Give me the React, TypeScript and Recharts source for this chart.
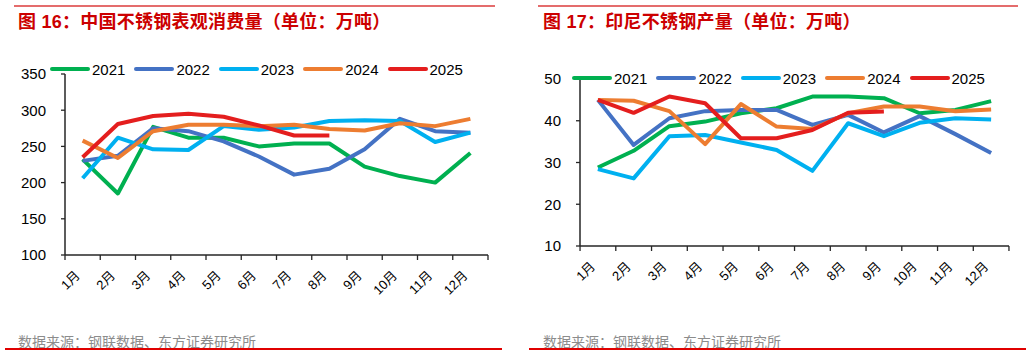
import React from 'react';
import { LineChart, Line, XAxis, YAxis } from 'recharts';

const months = ['1月', '2月', '3月', '4月', '5月', '6月', '7月', '8月', '9月', '10月', '11月', '12月'];
const years = ['2021', '2022', '2023', '2024', '2025'];
const colors = ['#00B050', '#4472C4', '#00B0F0', '#ED7D31', '#E41E1E'];

// 图16 中国不锈钢表观消费量（万吨）
const cons2021 = [232, 185, 277, 262, 262, 250, 254, 254, 222, 209, 200, 241];
const cons2022 = [230, 237, 275, 271, 257, 236, 211, 219, 246, 288, 271, 269];
const cons2023 = [206, 262, 246, 245, 278, 273, 276, 285, 286, 285, 256, 269];
const cons2024 = [258, 234, 271, 280, 280, 278, 280, 274, 272, 282, 278, 288];
const cons2025 = [235, 281, 292, 295, 291, 279, 265, 265];
const consTicks = [100, 150, 200, 250, 300, 350];

// 图17 印尼不锈钢产量（万吨）
const prod2021 = [28.8, 32.8, 38.7, 39.8, 41.8, 43, 45.8, 45.8, 45.4, 41.8, 42.6, 44.7];
const prod2022 = [45, 34.2, 40.6, 42.3, 42.6, 42.6, 39, 41.4, 37.2, 41.1, 36.8, 32.3];
const prod2023 = [28.4, 26.2, 36.3, 36.6, 34.8, 33, 28, 39.4, 36.3, 39.5, 40.6, 40.3];
const prod2024 = [45, 44.8, 42.3, 34.4, 44, 38.6, 38, 41.8, 43.4, 43.4, 42.3, 42.7];
const prod2025 = [45, 41.9, 45.8, 44.2, 35.8, 35.8, 37.8, 41.9, 42.2];
const prodTicks = [10, 20, 30, 40, 50];

const buildRows = (series: number[][]) =>
  months.map((m, i) => {
    const row: Record<string, any> = { month: m };
    years.forEach((y, k) => {
      row['y' + y] = series[k][i];
    });
    return row;
  });

const consData = buildRows([cons2021, cons2022, cons2023, cons2024, cons2025]);
const prodData = buildRows([prod2021, prod2022, prod2023, prod2024, prod2025]);

const FONT = '"Liberation Sans", Arial, "Noto Sans CJK SC", sans-serif';
const AXIS = '#262626';

const makeTick = (bw: number) => (props: any) => {
  const { x, y, payload, index } = props;
  const last = index === months.length - 1;
  return (
    <g>
      <line x1={x - bw / 2} y1={y} x2={x - bw / 2} y2={y + 5} stroke={AXIS} strokeWidth={1.3} />
      {last && <line x1={x + bw / 2} y1={y} x2={x + bw / 2} y2={y + 5} stroke={AXIS} strokeWidth={1.3} />}
      <g transform={`translate(${x - 5},${y + 18}) rotate(-45)`}>
        <text x={0} y={0} textAnchor="end" dominantBaseline="central" fontSize={13} fill="#000" fontFamily={FONT}>
          {payload.value}
        </text>
      </g>
    </g>
  );
};

const Legend = ({ left, top }: { left: number; top: number }) => (
  <div style={{ position: 'absolute', left, top, height: 18, display: 'flex', alignItems: 'center', fontFamily: FONT, fontSize: 15, color: '#000' }}>
    {years.map((y, i) => (
      <div key={y} style={{ display: 'flex', alignItems: 'center', marginRight: 9 }}>
        <span style={{ display: 'inline-block', width: 40, height: 4, borderRadius: 2, background: colors[i], marginRight: 2 }} />
        <span>{y}</span>
      </div>
    ))}
  </div>
);

type PanelProps = {
  offset: number;
  title: string;
  data: any[];
  ticks: number[];
  domain: [number, number];
  margin: { top: number; right: number; bottom: number; left: number };
  plotW: number;
  legendLeft: number;
  legendTop: number;
  titleLeft: number;
  topLine: [number, number];
  bottomLine: [number, number];
};

const Panel = (p: PanelProps) => (
  <div style={{ position: 'absolute', left: p.offset, top: 0, width: 516, height: 356 }}>
    <div style={{ position: 'absolute', left: p.topLine[0], top: 5, width: p.topLine[1] - p.topLine[0], height: 1.5, background: '#E46C6C' }} />
    <div style={{ position: 'absolute', left: p.titleLeft, top: 11, fontFamily: '"Liberation Sans", "Noto Sans CJK SC", sans-serif', fontWeight: 'bold', fontSize: 18, letterSpacing: 0.25, color: '#CC0000', whiteSpace: 'nowrap', lineHeight: '22px' }}>
      {p.title}
    </div>
    <div style={{ position: 'absolute', left: 0, top: 0 }}>
      <LineChart width={516} height={356} data={p.data} margin={p.margin}>
        <XAxis
          dataKey="month"
          scale="band"
          height={40}
          tickLine={false}
          tickSize={0}
          tickMargin={0}
          interval={0}
          axisLine={{ stroke: AXIS, strokeWidth: 1.5 }}
          tick={makeTick(p.plotW / 12)}
        />
        <YAxis
          width={50}
          domain={p.domain}
          ticks={p.ticks}
          type="number"
          allowDataOverflow
          tickSize={4}
          tickMargin={15}
          axisLine={{ stroke: AXIS, strokeWidth: 1.5 }}
          tickLine={{ stroke: AXIS, strokeWidth: 1.3 }}
          tick={{ fontSize: 15, fill: '#000', fontFamily: FONT }}
        />
        {years.map((y, i) => (
          <Line
            key={y}
            type="linear"
            dataKey={'y' + y}
            stroke={colors[i]}
            strokeWidth={4}
            dot={false}
            activeDot={false}
            strokeLinejoin="round"
            isAnimationActive={false}
          />
        ))}
      </LineChart>
    </div>
    <Legend left={p.legendLeft} top={p.legendTop} />
    <div style={{ position: 'absolute', left: p.titleLeft, top: 332, fontFamily: '"Noto Sans CJK SC", sans-serif', fontSize: 14, color: '#8C8C8C', whiteSpace: 'nowrap', lineHeight: '18px' }}>
      数据来源：钢联数据、东方证券研究所
    </div>
    <div style={{ position: 'absolute', left: p.bottomLine[0], top: 348, width: p.bottomLine[1] - p.bottomLine[0], height: 2, background: '#E00000' }} />
  </div>
);

export default function App() {
  return (
    <div style={{ position: 'absolute', left: 0, top: 0, width: 1032, height: 356, background: '#fff', overflow: 'hidden' }}>
      <Panel
        offset={0}
        title="图 16：中国不锈钢表观消费量（单位：万吨）"
        data={consData}
        ticks={consTicks}
        domain={[100, 350]}
        margin={{ top: 74, right: 28, bottom: 61, left: 15 }}
        plotW={423}
        legendLeft={50}
        legendTop={60}
        titleLeft={18}
        topLine={[14, 495]}
        bottomLine={[5, 502]}
      />
      <Panel
        offset={516}
        title="图 17：印尼不锈钢产量（单位：万吨）"
        data={prodData}
        ticks={prodTicks}
        domain={[10, 50]}
        margin={{ top: 79, right: 23, bottom: 70, left: 14 }}
        plotW={428}
        legendLeft={56}
        legendTop={69}
        titleLeft={27}
        topLine={[22, 502]}
        bottomLine={[13, 510]}
      />
    </div>
  );
}
